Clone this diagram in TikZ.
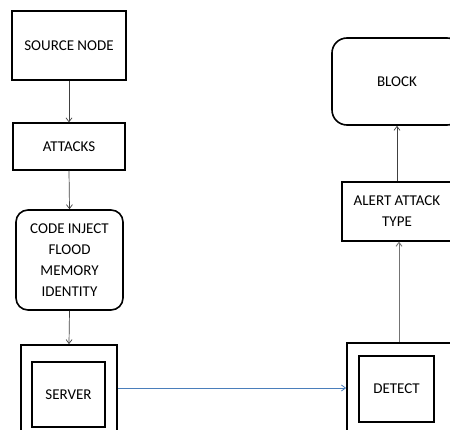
\documentclass[tikz,border=0pt]{standalone}
\usepackage{fontspec}
\setmainfont{Carlito}
\usetikzlibrary{arrows.meta}
\definecolor{linkblue}{HTML}{4A7EBB}
\tikzset{
  box/.style={draw=black, line width=1.3pt, inner sep=0pt, align=center, font=\fontsize{15}{21}\selectfont},
  rbox/.style={box, rounded corners=12pt},
  flow/.style={-{Straight Barb[length=4pt,width=6pt]}, line width=0.7pt, draw=black!75},
}
\begin{document}
\begin{tikzpicture}[x=1pt,y=1pt]
\useasboundingbox (0,0) rectangle (450,-430);
\clip (0,0) rectangle (450,-430);
\node[box, line width=1.6pt, minimum width=114pt, minimum height=69pt] (src) at (69,-45.5) {SOURCE NODE};
\node[box, minimum width=112pt, minimum height=47pt] (att) at (69,-146.5) {ATTACKS};
\node[rbox, line width=1.6pt, minimum width=107pt, minimum height=100pt] (code) at (69.5,-260) {CODE INJECT\\FLOOD\\MEMORY\\IDENTITY};
\node[box, line width=1.8pt, minimum width=96pt, minimum height=100pt] (srvout) at (69,-395) {};
\node[box, line width=1.5pt, minimum width=73pt, minimum height=65pt] (srvin) at (68.5,-394.5) {SERVER};
\node[box, line width=1.8pt, minimum width=104pt, minimum height=102pt] (detout) at (399,-394) {};
\node[box, line width=1.5pt, minimum width=75pt, minimum height=66pt] (detin) at (396.5,-389) {DETECT};
\node[box, minimum width=110pt, minimum height=59pt] (alert) at (397,-211.5) {ALERT ATTACK\\TYPE};
\node[rbox, line width=1.6pt, rounded corners=15pt, minimum width=130pt, minimum height=87pt] (block) at (397,-81.5) {BLOCK};
\coordinate (lnk) at (0,-388);
\draw[flow] (src.south) -- (att.north);
\draw[flow] (att.south) -- (code.north);
\draw[flow] (code.south) -- (srvout.north);
\draw[flow, draw=linkblue, line width=0.8pt] (srvout.east |- lnk) -- (detout.west |- lnk);
\draw[flow, draw=black!55, line width=0.9pt] (detout.north) -- (detout.north |- alert.south);
\draw[flow] (alert.north) -- (block.south);
\end{tikzpicture}
\end{document}
